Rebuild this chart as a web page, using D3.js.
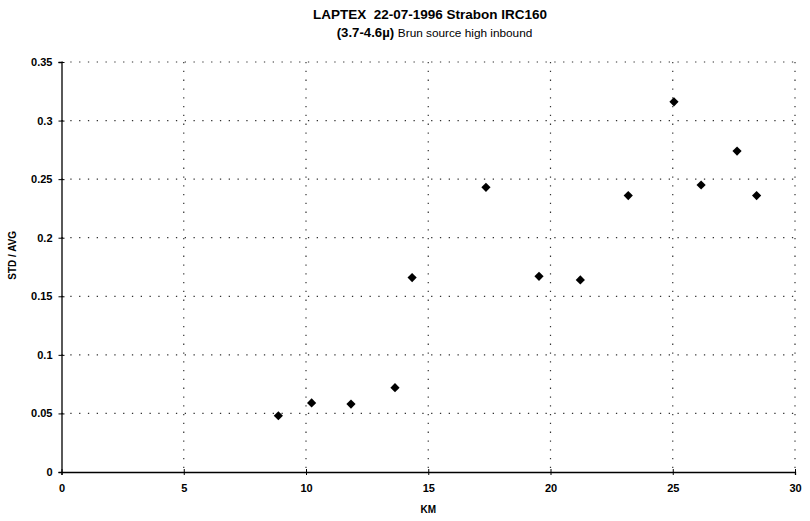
<!DOCTYPE html>
<html>
<head>
<meta charset="utf-8">
<script src="https://cdn.jsdelivr.net/npm/d3@7"></script>
<style>
  body { margin: 0; background: #fff; }
  text { font-family: "Liberation Sans", Arial, sans-serif; white-space: pre; }
</style>
</head>
<body>
<div id="chart"></div>
<script>
// data
var km = [8.87, 10.23, 11.84, 13.64, 14.34, 17.36, 19.53, 21.22, 23.18, 25.05, 26.16, 27.63, 28.43];
var ratio = [0.048, 0.059, 0.058, 0.072, 0.166, 0.243, 0.167, 0.164, 0.236, 0.316, 0.245, 0.274, 0.236];
var xTicks = [0, 5, 10, 15, 20, 25, 30];
var yTicks = [0, 0.05, 0.1, 0.15, 0.2, 0.25, 0.3, 0.35];

var W = 810, H = 521;
var margin = {top: 62, right: 15, bottom: 49, left: 61.5};
var width = W - margin.left - margin.right,
    height = H - margin.top - margin.bottom;

var svg = d3.select("#chart").append("svg")
    .attr("width", W)
    .attr("height", H);

var g = svg.append("g")
    .attr("transform", "translate(" + margin.left + "," + margin.top + ")");

var x = d3.scaleLinear().domain([0, 30]).range([0, width]);
var y = d3.scaleLinear().domain([0, 0.35]).range([height, 0]);

// dotted grid
g.selectAll(".hgrid")
    .data(yTicks.slice(1))
    .enter().append("line")
    .attr("x1", 0).attr("x2", width)
    .attr("y1", function(d) { return y(d); })
    .attr("y2", function(d) { return y(d); })
    .attr("stroke", "#333")
    .attr("stroke-width", 1.2)
    .attr("stroke-dasharray", "1.3,7.5");

g.selectAll(".vgrid")
    .data(xTicks.slice(1))
    .enter().append("line")
    .attr("y1", 0).attr("y2", height)
    .attr("x1", function(d) { return x(d); })
    .attr("x2", function(d) { return x(d); })
    .attr("stroke", "#333")
    .attr("stroke-width", 1.2)
    .attr("stroke-dasharray", "1.3,7.5");

// axes
var xAxis = d3.axisBottom(x).tickValues(xTicks).tickSize(3).tickPadding(9)
    .tickFormat(d3.format("d"));
var yAxis = d3.axisLeft(y).tickValues(yTicks).tickSize(3).tickPadding(6)
    .tickFormat(function(d) { return d === 0 ? "0" : String(+d.toFixed(2)); });

var gx = g.append("g")
    .attr("transform", "translate(0," + height + ")")
    .call(xAxis);
var gy = g.append("g").call(yAxis);

[gx, gy].forEach(function(a) {
    a.select(".domain").attr("stroke", "#000").attr("stroke-width", 1.3);
    a.selectAll(".tick line").attr("stroke", "#000");
    a.selectAll("text")
        .attr("font-size", 11)
        .attr("font-weight", "bold")
        .attr("fill", "#000");
});
// ticks cross the axis line
gx.selectAll(".tick line").attr("y1", -3).attr("y2", 3);
gy.selectAll(".tick line").attr("x1", -3).attr("x2", 3);

// markers: squat diamonds
var r = 4.6;
g.selectAll(".pt")
    .data(km)
    .enter().append("path")
    .attr("class", "pt")
    .attr("d", "M0," + (-r) + "L" + r + ",0L0," + r + "L" + (-r) + ",0Z")
    .attr("transform", function(d, i) {
        return "translate(" + x(d) + "," + y(ratio[i]) + ")";
    })
    .attr("fill", "#000");

// titles
svg.append("text")
    .attr("x", 430).attr("y", 19)
    .attr("text-anchor", "middle")
    .attr("font-size", 13.5)
    .attr("font-weight", "bold")
    .text("LAPTEX  22-07-1996 Strabon IRC160");

var sub = svg.append("text")
    .attr("x", 434.5).attr("y", 37)
    .attr("text-anchor", "middle");
sub.append("tspan")
    .attr("font-size", 13.2)
    .attr("font-weight", "bold")
    .text("(3.7-4.6µ) ");
sub.append("tspan")
    .attr("font-size", 11.8)
    .text("Brun source high inbound");

// axis titles
svg.append("text")
    .attr("x", margin.left + x(15)).attr("y", 513)
    .attr("text-anchor", "middle")
    .attr("font-size", 10)
    .attr("font-weight", "bold")
    .text("KM");

svg.append("text")
    .attr("transform", "translate(16," + (margin.top + y(0.185)) + ") rotate(-90)")
    .attr("text-anchor", "middle")
    .attr("font-size", 10)
    .attr("font-weight", "bold")
    .text("STD / AVG");
</script>
</body>
</html>
